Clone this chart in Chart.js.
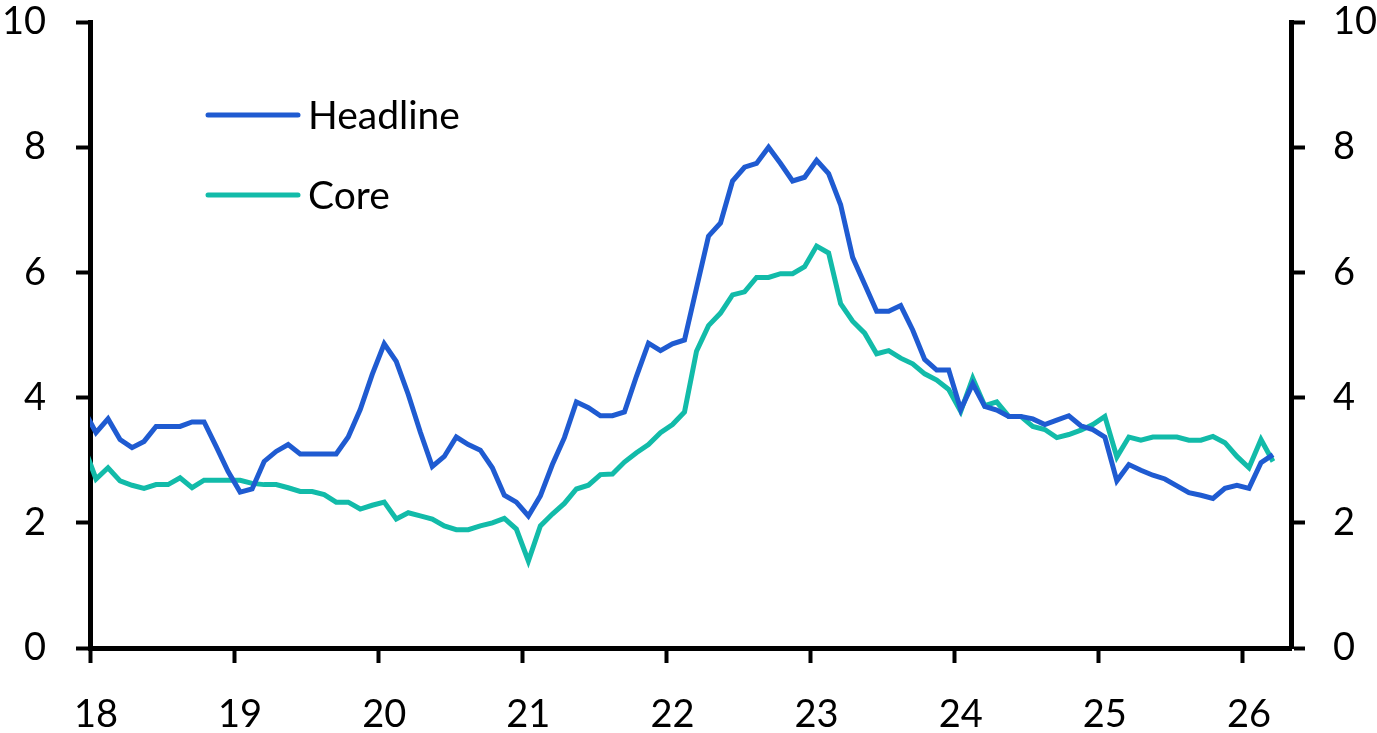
<!DOCTYPE html>
<html>
<head>
<meta charset="utf-8">
<script src="https://cdn.jsdelivr.net/npm/chart.js@4.4.1/dist/chart.umd.min.js"></script>
<style>
  html, body { margin: 0; padding: 0; background: #ffffff; }
  #wrap { width: 1377px; height: 733px; }
</style>
</head>
<body>
<div id="wrap"><canvas id="c" width="1377" height="733"></canvas></div>
<script>
// Monthly data, first value = Dec 2017 (partly outside the axis range), last = Mar 2026
const startYear = 2017;
const startMonth = 11; // 0-based: December
const headline = [
  3.80,
  3.44, 3.66, 3.33, 3.20, 3.30, 3.54, 3.54, 3.54, 3.61, 3.61, 3.22, 2.82,
  2.49, 2.54, 2.98, 3.14, 3.25, 3.10, 3.10, 3.10, 3.10, 3.37, 3.81, 4.37,
  4.86, 4.58, 4.05, 3.45, 2.90, 3.06, 3.37, 3.25, 3.16, 2.88, 2.44, 2.33,
  2.11, 2.43, 2.93, 3.36, 3.93, 3.84, 3.71, 3.71, 3.77, 4.34, 4.87, 4.75,
  4.86, 4.92, 5.75, 6.58, 6.79, 7.46, 7.68, 7.74, 8.00, 7.74, 7.46, 7.52,
  7.79, 7.58, 7.08, 6.24, 5.81, 5.38, 5.38, 5.47, 5.08, 4.61, 4.44, 4.44,
  3.81, 4.22, 3.86, 3.80, 3.70, 3.70, 3.66, 3.57, 3.64, 3.71, 3.55, 3.49,
  3.37, 2.67, 2.93, 2.84, 2.76, 2.70, 2.59, 2.48, 2.44, 2.39, 2.55, 2.60,
  2.55, 2.96, 3.09
];
const core = [
  3.22,
  2.70, 2.88, 2.67, 2.60, 2.55, 2.61, 2.61, 2.72, 2.56, 2.68, 2.68, 2.68,
  2.68, 2.63, 2.61, 2.61, 2.56, 2.50, 2.50, 2.45, 2.33, 2.33, 2.22, 2.28,
  2.33, 2.06, 2.16, 2.11, 2.06, 1.95, 1.89, 1.89, 1.95, 2.00, 2.07, 1.90,
  1.39, 1.95, 2.14, 2.31, 2.54, 2.60, 2.77, 2.78, 2.97, 3.12, 3.25, 3.44,
  3.57, 3.77, 4.74, 5.15, 5.35, 5.64, 5.69, 5.92, 5.92, 5.98, 5.98, 6.09,
  6.42, 6.31, 5.50, 5.22, 5.03, 4.70, 4.75, 4.63, 4.54, 4.38, 4.28, 4.13,
  3.78, 4.31, 3.87, 3.93, 3.70, 3.70, 3.54, 3.49, 3.36, 3.41, 3.48, 3.57,
  3.70, 3.05, 3.37, 3.32, 3.37, 3.37, 3.37, 3.32, 3.32, 3.38, 3.28, 3.06,
  2.88, 3.33, 2.98
];
const seriesNames = ['Headline', 'Core'];
const yearTicks = [2018, 2019, 2020, 2021, 2022, 2023, 2024, 2025, 2026];
const yearLabels = ['18', '19', '20', '21', '22', '23', '24', '25', '26'];
const yTicks = [0, 2, 4, 6, 8, 10];
const xMin = 2018;
const xMax = 2026 + 4 / 12;

const FONT = 'Lato, "Open Sans", "Noto Sans", sans-serif';
const BLUE = '#1f5bd1';
const TEAL = '#12bba9';

// monthly points sit at mid-month
function toPoints(arr) {
  return arr.map((v, i) => {
    const m = startMonth + i;
    return { x: startYear + (m + 0.5) / 12, y: v };
  });
}

const legendPlugin = {
  id: 'insideLegend',
  afterDatasetsDraw(chart) {
    const ctx = chart.ctx;
    const rows = [115, 195];
    ctx.save();
    chart.data.datasets.forEach((ds, i) => {
      const y = rows[i];
      ctx.beginPath();
      ctx.strokeStyle = ds.borderColor;
      ctx.lineWidth = 5;
      ctx.lineCap = 'round';
      ctx.moveTo(208, y);
      ctx.lineTo(298, y);
      ctx.stroke();
      ctx.fillStyle = '#000';
      ctx.font = '39px ' + FONT;
      ctx.textBaseline = 'middle';
      ctx.textAlign = 'left';
      ctx.fillText(ds.label, 308, y + 1);
    });
    ctx.restore();
  }
};

function yAxis(position, width, pad) {
  return {
    type: 'linear',
    position: position,
    min: 0,
    max: 10,
    afterBuildTicks(scale) { scale.ticks = yTicks.map(v => ({ value: v })); },
    afterFit(scale) {
      scale.width = width;
      scale.paddingTop = 0;
      scale.paddingBottom = 0;
    },
    grid: {
      display: true,
      drawOnChartArea: false,
      drawTicks: true,
      tickLength: 14,
      tickWidth: 4,
      tickColor: '#000'
    },
    border: { display: true, color: '#000', width: 5 },
    ticks: {
      color: '#000',
      font: { family: FONT, size: 38, lineHeight: 1 },
      padding: pad
    }
  };
}

new Chart(document.getElementById('c'), {
  type: 'line',
  data: {
    datasets: [
      {
        label: seriesNames[0],
        data: toPoints(headline),
        borderColor: BLUE,
        backgroundColor: BLUE,
        borderWidth: 5,
        pointRadius: 0,
        tension: 0,
        yAxisID: 'y'
      },
      {
        label: seriesNames[1],
        data: toPoints(core),
        borderColor: TEAL,
        backgroundColor: TEAL,
        borderWidth: 5,
        pointRadius: 0,
        tension: 0,
        yAxisID: 'y'
      }
    ]
  },
  options: {
    responsive: false,
    animation: false,
    devicePixelRatio: 1,
    layout: { padding: { top: 22, right: 0, bottom: 0, left: 0 } },
    plugins: {
      legend: { display: false },
      tooltip: { enabled: false }
    },
    scales: {
      x: {
        type: 'linear',
        min: xMin,
        max: xMax,
        afterBuildTicks(scale) { scale.ticks = yearTicks.map(v => ({ value: v })); },
        afterFit(scale) {
          scale.height = 85;
          scale.paddingLeft = 0;
          scale.paddingRight = 0;
        },
        grid: {
          display: true,
          drawOnChartArea: false,
          drawTicks: true,
          tickLength: 15,
          tickWidth: 4,
          tickColor: '#000'
        },
        border: { display: true, color: '#000', width: 5 },
        ticks: {
          color: '#000',
          font: { family: FONT, size: 38, lineHeight: 1 },
          padding: 33,
          labelOffset: 6,
          maxRotation: 0,
          autoSkip: false,
          callback(value, index) { return yearLabels[index]; }
        }
      },
      y: yAxis('left', 90, 30),
      y2: yAxis('right', 86, 28)
    }
  },
  plugins: [legendPlugin]
});
</script>
</body>
</html>
